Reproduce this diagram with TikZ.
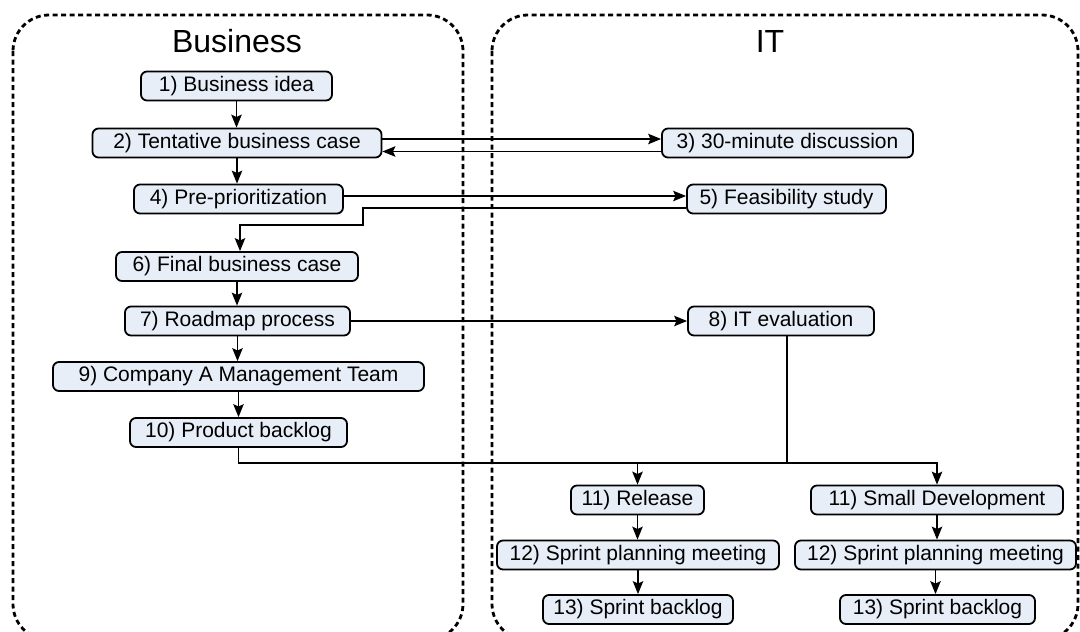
\documentclass[tikz,border=0pt]{standalone}
\usepackage{fontspec}
\setmainfont{Liberation Sans}
\usetikzlibrary{arrows.meta,calc}
\definecolor{boxfill}{HTML}{E8EEF7}
\begin{document}
\begin{tikzpicture}[x=1pt,y=-1pt,
  stepbox/.style={draw, line width=1.8pt, rounded corners=6pt, fill=boxfill,
    minimum height=29pt, inner sep=0pt, font=\fontsize{21}{25}\selectfont},
  flow/.style={line width=1.6pt, -{Stealth[length=13pt,width=10.5pt,inset=2.5pt]}},
  link/.style={line width=1.6pt},
  lane/.style={draw, line width=2.8pt, dash pattern=on 5pt off 3.5pt, rounded corners=36pt},
  lanetitle/.style={font=\fontsize{32}{36}\selectfont, inner sep=0pt}]
\useasboundingbox (0,0) rectangle (1080,632);

% swim lanes
\draw[lane] (13,15) rectangle (463,640);
\draw[lane] (492,15) rectangle (1078,640);
\node[lanetitle] (tbiz) at (237,41) {Business};
\node[lanetitle] (tit) at (770,41) {IT};

% business steps
\node[stepbox, minimum width=191pt] (n1)  at (236.5,86)  {1) Business idea};
\node[stepbox, minimum width=289pt] (n2)  at (237,143)   {2) Tentative business case};
\node[stepbox, minimum width=209pt] (n4)  at (238.5,199) {4) Pre-prioritization};
\node[stepbox, minimum width=242pt] (n6)  at (237,266.5) {6) Final business case};
\node[stepbox, minimum width=225pt] (n7)  at (237.5,321) {7) Roadmap process};
\node[stepbox, minimum width=371pt] (n9)  at (238.5,376.5) {9) Company A Management Team};
\node[stepbox, minimum width=217pt] (n10) at (238.5,432.5) {10) Product backlog};

% IT steps
\node[stepbox, minimum width=251pt] (n3)  at (787.5,143) {3) 30-minute discussion};
\node[stepbox, minimum width=199pt] (n5)  at (786.5,199) {5) Feasibility study};
\node[stepbox, minimum width=186pt] (n8)  at (781,321)   {8) IT evaluation};
\node[stepbox, minimum width=133pt] (n11a) at (637.5,500) {11) Release};
\node[stepbox, minimum width=252pt] (n11b) at (937,500)   {11) Small Development};
\node[stepbox, minimum width=282pt] (n12a) at (638,555)   {12) Sprint planning meeting};
\node[stepbox, minimum width=281pt] (n12b) at (935.5,555) {12) Sprint planning meeting};
\node[stepbox, minimum width=190pt] (n13a) at (638,609.5) {13) Sprint backlog};
\node[stepbox, minimum width=195pt] (n13b) at (937.5,609.5) {13) Sprint backlog};

% vertical flow in the business lane
\draw[flow] (n1.south) -- (n1.south |- n2.north);
\draw[flow] (n2.south) -- (n2.south |- n4.north);
\draw[flow] (n6.south) -- (n6.south |- n7.north);
\draw[flow] (n7.south) -- (n7.south |- n9.north);
\draw[flow] (n9.south) -- (n9.south |- n10.north);

% exchanges between the lanes
\draw[flow] ([yshift=4pt]n2.east) -- ([yshift=4pt]n2.east -| n3.west);
\draw[flow] ([yshift=-8.5pt]n3.west) -- ([yshift=-8.5pt]n3.west -| n2.east);
\draw[flow] ([yshift=3pt]n4.east) -- ([yshift=3pt]n4.east -| n5.west);
\coordinate (k1) at (363,225);
\draw[flow] ([yshift=-9pt]n5.west) -| (k1) -| ([xshift=3pt]n6.north);
\draw[flow] (n7.east) -- (n7.east -| n8.west);

% hand-over to development
\coordinate (busR) at (937,463);
\coordinate (busL) at (637.5,463);
\draw[flow] (n10.south) |- (busR) -- (n11b.north);
\draw[flow] (busL) -- (n11a.north);
\draw[link] ([xshift=6pt]n8.south) -- ([xshift=6pt]n8.south |- busR);

% sprint chains
\draw[flow] (n11a.south) -- (n12a.north -| n11a.south);
\draw[flow] (n12a.south) -- (n13a.north -| n12a.south);
\draw[flow] (n11b.south) -- (n12b.north -| n11b.south);
\draw[flow] (n12b.south) -- (n13b.north -| n12b.south);
\end{tikzpicture}
\end{document}
